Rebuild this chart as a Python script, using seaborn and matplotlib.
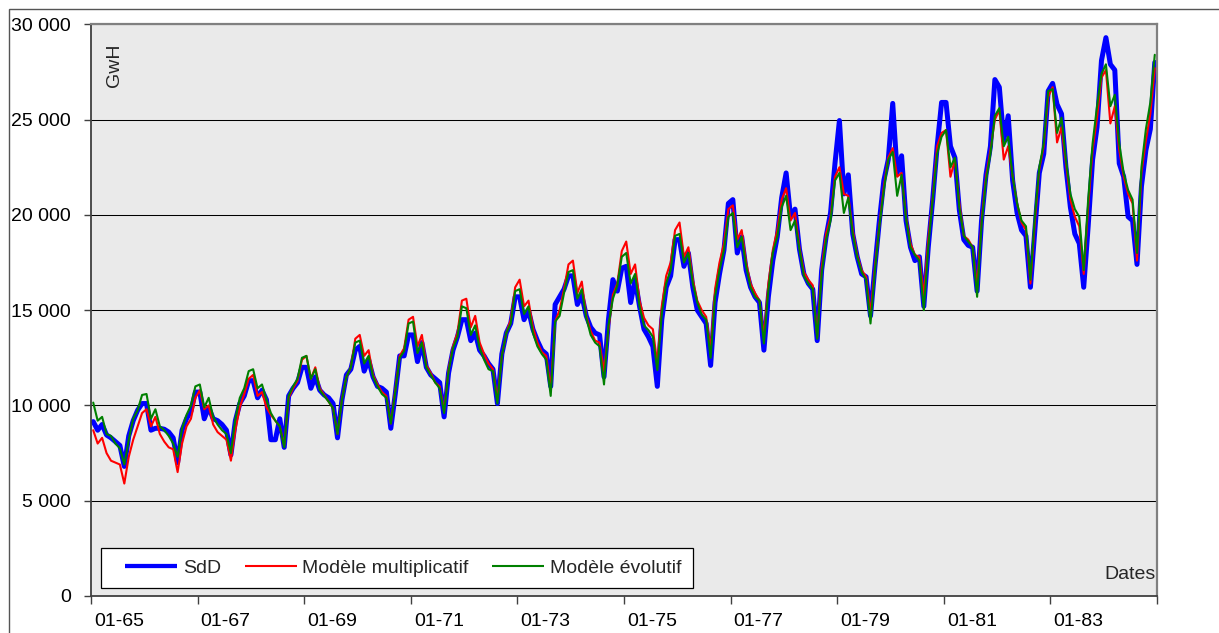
import matplotlib
matplotlib.use("Agg")
import matplotlib.pyplot as plt
import numpy as np
import pandas as pd
import seaborn as sns
from matplotlib.patches import Rectangle
from matplotlib.lines import Line2D

# Monthly electricity consumption, thousands of GWh, January 1965 to December 1984
sdd = [
    9.15, 8.7, 9.0, 8.45, 8.3, 8.1, 7.9, 6.8, 8.4, 9.2, 9.75, 10.1,        # 1965
    10.1, 8.7, 8.8, 8.8, 8.75, 8.6, 8.3, 7.0, 8.7, 9.3, 9.7, 10.7,         # 1966
    10.7, 9.3, 9.9, 9.3, 9.2, 9.0, 8.7, 7.4, 9.2, 10.1, 10.5, 11.3,        # 1967
    11.3, 10.4, 10.8, 10.3, 8.2, 8.2, 9.3, 7.8, 10.5, 10.9, 11.2, 12.0,    # 1968
    12.0, 10.9, 11.5, 10.8, 10.55, 10.4, 10.1, 8.3, 10.3, 11.6, 11.9, 12.9,  # 1969
    13.1, 11.8, 12.4, 11.5, 11.0, 10.9, 10.7, 8.8, 10.6, 12.6, 12.6, 13.7,   # 1970
    13.7, 12.3, 13.3, 12.0, 11.6, 11.4, 11.2, 9.4, 11.7, 12.9, 13.6, 14.5,   # 1971
    14.5, 13.4, 13.8, 12.9, 12.6, 12.2, 11.9, 10.1, 12.7, 13.8, 14.3, 15.7,  # 1972
    15.7, 14.5, 15.0, 14.0, 13.4, 12.9, 12.7, 11.0, 15.3, 15.7, 16.1, 16.8,  # 1973
    16.8, 15.3, 15.8, 14.7, 14.1, 13.8, 13.7, 11.5, 14.5, 16.6, 16.0, 17.2,  # 1974
    17.3, 15.4, 16.6, 15.2, 14.0, 13.6, 13.1, 11.0, 14.5, 16.2, 16.8, 18.7,  # 1975
    18.7, 17.3, 18.0, 16.2, 15.0, 14.65, 14.3, 12.1, 15.4, 16.9, 18.15, 20.6,  # 1976
    20.8, 18.0, 18.85, 17.1, 16.2, 15.7, 15.4, 12.9, 15.7, 17.6, 18.85, 20.9,  # 1977
    22.2, 19.9, 20.3, 18.2, 16.9, 16.4, 16.1, 13.4, 17.1, 18.85, 20.1, 22.7,   # 1978
    24.95, 21.1, 22.1, 19.0, 17.8, 16.9, 16.75, 14.7, 17.3, 19.7, 21.8, 22.9,  # 1979
    25.85, 22.2, 23.1, 19.7, 18.3, 17.6, 17.8, 15.2, 18.3, 20.8, 23.6, 25.9,   # 1980
    25.9, 23.6, 23.0, 20.25, 18.7, 18.4, 18.3, 16.0, 19.7, 22.1, 23.6, 27.1,   # 1981
    26.7, 23.9, 25.2, 21.8, 20.1, 19.2, 18.9, 16.2, 19.2, 22.2, 23.2, 26.5,    # 1982
    26.9, 25.8, 25.3, 22.5, 20.4, 19.0, 18.5, 16.2, 19.4, 22.9, 24.6, 28.1,    # 1983
    29.3, 27.9, 27.6, 22.7, 22.0, 19.9, 19.7, 17.4, 21.5, 23.4, 24.5, 28.0,    # 1984
]

modele_multiplicatif = [
    8.7, 8.0, 8.3, 7.5, 7.1, 7.0, 6.9, 5.9, 7.3, 8.2, 8.9, 9.6,
    9.8, 8.9, 9.4, 8.5, 8.1, 7.8, 7.7, 6.5, 8.0, 8.9, 9.3, 10.4,
    10.8, 9.8, 10.0, 9.0, 8.6, 8.4, 8.2, 7.1, 8.7, 9.9, 10.6, 11.4,
    11.6, 10.5, 10.7, 9.9, 9.5, 9.2, 8.9, 7.9, 10.4, 10.9, 11.3, 12.4,
    12.6, 11.4, 12.0, 10.9, 10.55, 10.2, 9.85, 8.5, 10.35, 11.5, 12.0, 13.5,
    13.7, 12.6, 12.9, 11.6, 11.1, 10.7, 10.5, 9.05, 10.8, 12.6, 13.0, 14.5,
    14.65, 13.1, 13.7, 12.1, 11.7, 11.2, 11.0, 9.7, 11.9, 13.1, 13.8, 15.5,
    15.6, 14.1, 14.7, 13.3, 12.7, 12.2, 11.9, 10.3, 12.6, 13.8, 14.5, 16.2,
    16.6, 15.2, 15.5, 14.1, 13.3, 12.8, 12.6, 10.9, 14.4, 15.0, 16.1, 17.4,
    17.6, 15.9, 16.5, 14.7, 13.9, 13.4, 13.3, 11.8, 14.0, 15.8, 16.4, 18.1,
    18.6, 16.9, 17.4, 15.5, 14.6, 14.2, 14.0, 12.2, 15.2, 16.8, 17.5, 19.2,
    19.6, 17.8, 18.3, 16.6, 15.5, 15.0, 14.65, 12.9, 16.1, 17.5, 18.5, 20.3,
    20.5, 18.7, 19.2, 17.5, 16.4, 15.9, 15.5, 13.6, 16.4, 18.15, 19.2, 20.8,
    21.4, 19.7, 20.1, 18.3, 17.0, 16.6, 16.3, 13.6, 17.2, 19.0, 19.9, 22.0,
    22.5, 21.1, 21.0, 19.2, 17.9, 17.1, 16.75, 14.8, 17.3, 19.5, 21.5, 23.0,
    23.5, 22.0, 22.2, 19.9, 18.5, 17.9, 17.8, 15.7, 18.7, 20.9, 23.6, 24.3,
    24.45, 22.0, 22.9, 20.6, 18.9, 18.7, 18.3, 16.2, 19.7, 22.0, 23.4, 25.0,
    25.5, 22.9, 23.6, 22.0, 20.6, 19.6, 19.2, 16.4, 19.6, 22.4, 23.6, 26.2,
    26.7, 23.8, 24.6, 22.7, 20.8, 19.9, 19.4, 16.9, 20.4, 23.4, 25.1, 27.2,
    27.6, 24.8, 25.7, 23.4, 22.0, 21.1, 20.6, 17.6, 22.2, 23.9, 25.3, 27.7,
]

modele_evolutif = [
    10.15, 9.2, 9.4, 8.5, 8.4, 8.0, 7.75, 6.9, 8.2, 9.3, 9.75, 10.55,
    10.6, 9.3, 9.8, 8.9, 8.7, 8.4, 8.0, 7.3, 8.8, 9.5, 10.0, 11.0,
    11.1, 9.9, 10.4, 9.4, 9.0, 8.7, 8.5, 7.5, 9.3, 10.4, 10.9, 11.8,
    11.9, 10.9, 11.1, 10.3, 9.6, 9.2, 8.9, 7.8, 10.5, 11.0, 11.4, 12.5,
    12.6, 11.4, 11.9, 10.8, 10.5, 10.2, 9.85, 8.5, 10.3, 11.5, 12.0, 13.3,
    13.4, 12.2, 12.6, 11.5, 11.0, 10.6, 10.4, 9.05, 10.7, 12.5, 12.85, 14.3,
    14.4, 12.75, 13.3, 12.0, 11.6, 11.2, 10.9, 9.6, 11.8, 13.0, 13.6, 15.2,
    15.1, 13.7, 14.2, 13.0, 12.4, 11.9, 11.8, 10.1, 12.6, 13.8, 14.3, 16.0,
    16.1, 14.8, 15.2, 13.8, 13.1, 12.7, 12.4, 10.5, 14.4, 14.7, 15.9, 17.0,
    17.1, 15.6, 16.1, 14.6, 13.7, 13.3, 13.1, 11.1, 14.2, 15.6, 16.3, 17.8,
    18.0, 16.4, 16.9, 15.2, 14.2, 13.95, 13.6, 11.85, 14.8, 16.4, 17.1, 18.9,
    19.0, 17.5, 18.0, 16.4, 15.4, 14.75, 14.5, 12.5, 15.7, 17.1, 18.15, 19.9,
    20.1, 18.3, 18.85, 17.3, 16.2, 15.7, 15.5, 13.25, 16.05, 18.0, 18.85, 20.4,
    21.0, 19.2, 19.7, 18.2, 16.8, 16.4, 16.1, 13.5, 16.9, 18.7, 19.7, 21.8,
    22.2, 20.1, 20.9, 19.0, 17.8, 17.0, 16.6, 14.3, 17.1, 19.4, 21.3, 22.9,
    23.3, 21.0, 22.1, 19.8, 18.3, 17.9, 17.6, 15.0, 18.3, 20.8, 23.2, 24.1,
    24.45, 22.5, 23.0, 20.4, 18.9, 18.6, 18.3, 15.7, 19.5, 21.8, 23.2, 25.2,
    25.6, 23.6, 24.1, 22.0, 20.6, 19.7, 19.4, 16.6, 19.9, 22.5, 23.75, 26.5,
    26.6, 24.3, 25.1, 22.9, 21.1, 20.3, 19.9, 17.1, 20.8, 23.75, 25.7, 27.4,
    27.9, 25.7, 26.3, 23.75, 22.2, 21.3, 20.8, 18.0, 22.5, 24.5, 25.9, 28.4,
]

series_names = ["SdD", "Modèle multiplicatif", "Modèle évolutif"]
tick_labels = ["01-65", "01-67", "01-69", "01-71", "01-73",
               "01-75", "01-77", "01-79", "01-81", "01-83"]
y_ticks = [0, 5000, 10000, 15000, 20000, 25000, 30000]

# ---- styling -------------------------------------------------------------
W, H = 1219, 633
colors = {"SdD": "#0000FF", "Modèle multiplicatif": "#FF0000", "Modèle évolutif": "#008000"}
widths = {"SdD": 3.6, "Modèle multiplicatif": 1.5, "Modèle évolutif": 1.5}

sns.set_style("white")
plt.rcParams["font.family"] = ["Liberation Sans", "DejaVu Sans"]
plt.rcParams["font.size"] = 14

# Long-form table: one row per month and series (x = month centre)
n = len(sdd)
months = np.arange(n) + 0.5
df = pd.DataFrame({
    "mois": np.tile(months, 3),
    "GWh": np.concatenate([sdd, modele_multiplicatif, modele_evolutif]) * 1000,
    "serie": np.repeat(series_names, n),
})

fig = plt.figure(figsize=(W / 100, H / 100), dpi=100, facecolor="white")
ax = fig.add_axes([91 / W, 1 - 596 / H, (1157 - 91) / W, (596 - 24.3) / H])
ax.set_facecolor("#EAEAEA")

for name in series_names:
    sns.lineplot(data=df[df["serie"] == name], x="mois", y="GWh",
                 color=colors[name], linewidth=widths[name],
                 errorbar=None, sort=False, legend=False, ax=ax)
for line in ax.get_lines():
    line.set_solid_joinstyle("round")
    line.set_solid_capstyle("round")

ax.set_xlim(0, 240)
ax.set_ylim(0, 30000)
ax.set_xlabel("")
ax.set_ylabel("")

# x axis: tick marks every two years, labels set just right of each mark
ax.set_xticks(np.arange(0, 241, 24))
ax.set_xticklabels([])
ax.set_xticks(np.arange(0, 240, 24) + 6.3, labels=tick_labels, minor=True)
ax.tick_params(axis="x", which="major", bottom=True, direction="out",
               length=6, width=1, color="#404040")
ax.tick_params(axis="x", which="minor", bottom=True, length=0, pad=12,
               labelsize=14, labelcolor="black")

ax.set_yticks(y_ticks)
ax.set_yticklabels([f"{v:,}".replace(",", " ") for v in y_ticks])
ax.tick_params(axis="y", left=True, direction="out", length=5, width=1,
               color="#404040", pad=9.4, labelsize=14, labelcolor="black")

ax.yaxis.grid(True, color="black", linewidth=0.75)
ax.xaxis.grid(False)
ax.set_axisbelow(True)

for side in ("left", "bottom"):
    ax.spines[side].set_color("#404040")
    ax.spines[side].set_linewidth(1.3)
for side in ("top", "right"):
    ax.spines[side].set_color("#808080")
    ax.spines[side].set_linewidth(1.6)

ax.text(0.0225, 0.966, "GwH", rotation=90, ha="center", va="top",
        fontsize=14, transform=ax.transAxes)
ax.text(0.9985, 0.0297, "Dates", ha="right", va="baseline",
        fontsize=14, transform=ax.transAxes)

# Legend box drawn as a white panel with the entries laid over it
fig.add_artist(Rectangle((101 / W, 1 - 588 / H), (693 - 101) / W, 40 / H,
                         transform=fig.transFigure, facecolor="white",
                         edgecolor="black", linewidth=0.9, zorder=3))
handles = [Line2D([], [], color=colors[s], linewidth=widths[s] * (0.85 if s == "SdD" else 1.0),
                  solid_capstyle="butt")
           for s in series_names]
fig.legend(handles, series_names, loc="center left",
           bbox_to_anchor=(125 / W, 1 - 568 / H), bbox_transform=fig.transFigure,
           frameon=False, ncol=3, borderpad=0, borderaxespad=0,
           handlelength=2.67, handletextpad=0.3, columnspacing=1.22,
           fontsize=14).set_zorder(5)

# Thin outer frame of the chart area
fig.add_artist(Rectangle((9 / W, -0.05), 1.0, 1 - 9 / H + 0.05,
                         transform=fig.transFigure, fill=False,
                         edgecolor="#555555", linewidth=1.0, zorder=0))

fig.savefig("out.png", dpi=100)
